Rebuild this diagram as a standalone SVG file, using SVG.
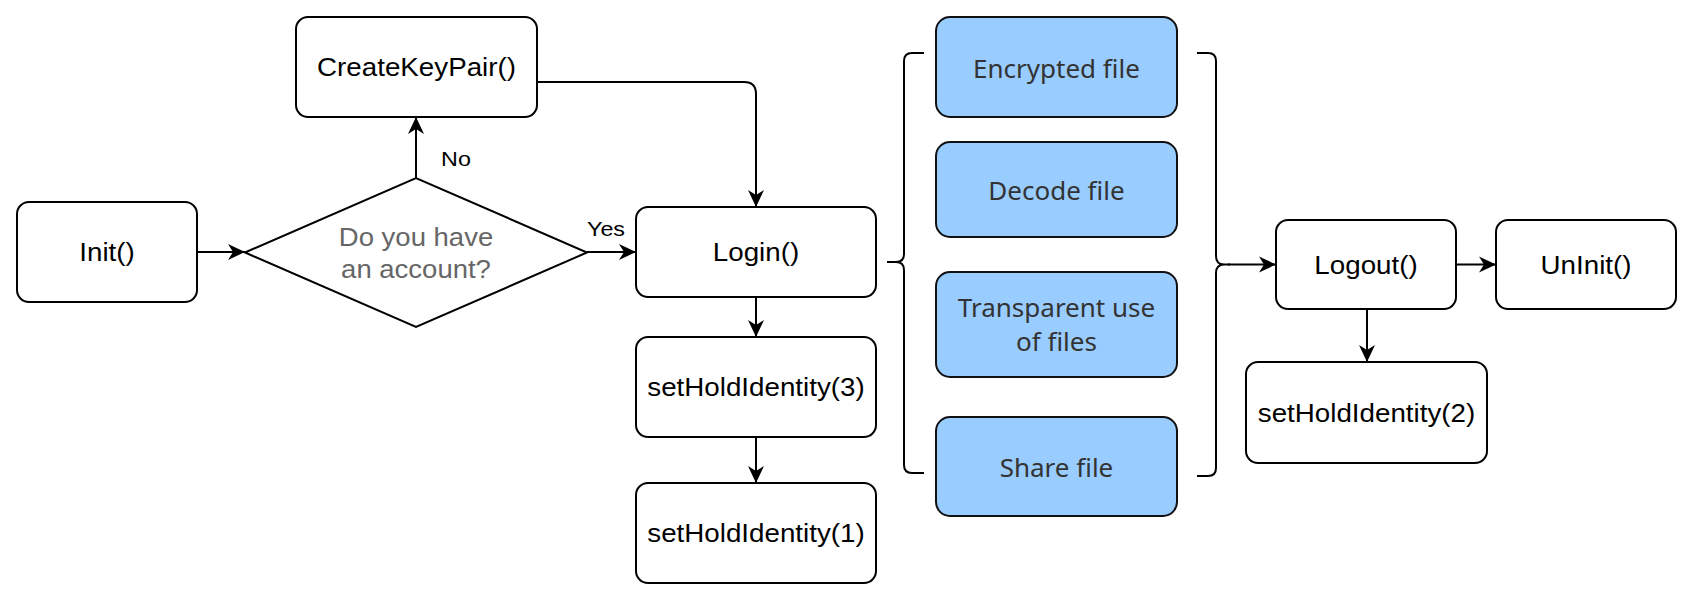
<svg xmlns="http://www.w3.org/2000/svg" width="1694" height="599" viewBox="0 0 1694 599">
<defs>
<marker id="arr" markerUnits="userSpaceOnUse" orient="auto" markerWidth="20" markerHeight="20" refX="0" refY="0" viewBox="-18 -10 20 20" overflow="visible">
<path d="M0,0 L-17,-8 L-12,0 L-17,8 Z" fill="#000" stroke="none"/>
</marker>
<style>
.box{fill:#fff;stroke:#000;stroke-width:2}
.blue{fill:#99ccff;stroke:#111;stroke-width:2}
.t{font-family:"Liberation Sans",Arial,sans-serif;font-size:25px;fill:#000;text-anchor:middle}
.g{font-family:"Liberation Sans",Arial,sans-serif;font-size:25px;fill:#666;text-anchor:middle}
.lb{font-family:"Liberation Sans",Arial,sans-serif;font-size:21px;fill:#000;text-anchor:middle}
.bt{font-family:"Noto Sans",sans-serif;font-size:26px;fill:#333;text-anchor:middle}
.c{fill:none;stroke:#000;stroke-width:2}
</style>
</defs>
<rect width="1694" height="599" fill="#fff"/>
<g id="connectors">
<path class="c" d="M197,252 L245,252" marker-end="url(#arr)"/>
<path class="c" d="M416,178 L416,117" marker-end="url(#arr)"/>
<path class="c" d="M587,252 L636,252" marker-end="url(#arr)"/>
<path class="c" d="M537,82 L744,82 Q756,82 756,94 L756,207" marker-end="url(#arr)"/>
<path class="c" d="M756,297 L756,337" marker-end="url(#arr)"/>
<path class="c" d="M756,437 L756,483" marker-end="url(#arr)"/>
<path class="c" d="M1228,264.5 L1276,264.5" marker-end="url(#arr)"/>
<path class="c" d="M1456,264.5 L1496,264.5" marker-end="url(#arr)"/>
<path class="c" d="M1367,309 L1367,362" marker-end="url(#arr)"/>
<text class="lb" transform="translate(456,166) scale(1.11,1)">No</text>
<text class="lb" transform="translate(606,236) scale(1.11,1)">Yes</text>
</g>
<g id="init">
<rect class="box" x="17" y="202" width="180" height="100" rx="12"/>
<text class="t" transform="translate(107,261) scale(1.11,1)">Init()</text>
</g>
<g id="createkeypair">
<rect class="box" x="296" y="17" width="241" height="100" rx="12"/>
<text class="t" transform="translate(416.5,76) scale(1.11,1)">CreateKeyPair()</text>
</g>
<g id="decision">
<polygon class="box" points="245,252.5 416,178 587,252.5 416,327"/>
<text class="g" transform="translate(416,246) scale(1.1,1)">Do you have</text>
<text class="g" transform="translate(416,278) scale(1.1,1)">an account?</text>
</g>
<g id="login">
<rect class="box" x="636" y="207" width="240" height="90" rx="12"/>
<text class="t" transform="translate(756,261) scale(1.11,1)">Login()</text>
</g>
<g id="sethold3">
<rect class="box" x="636" y="337" width="240" height="100" rx="12"/>
<text class="t" transform="translate(756,396) scale(1.11,1)">setHoldIdentity(3)</text>
</g>
<g id="sethold1">
<rect class="box" x="636" y="483" width="240" height="100" rx="12"/>
<text class="t" transform="translate(756,542) scale(1.11,1)">setHoldIdentity(1)</text>
</g>
<g id="brace-left">
<path class="c" d="M924,53 L912,53 Q904,53 904,61 L904,254 Q904,262 896,262 L887,262 M896,262 Q904,262 904,270 L904,465 Q904,473 912,473 L924,473"/>
</g>
<g id="encrypted">
<rect class="blue" x="936" y="17" width="241" height="100" rx="14"/>
<text class="bt" x="1056.5" y="77.5">Encrypted file</text>
</g>
<g id="decode">
<rect class="blue" x="936" y="142" width="241" height="95" rx="14"/>
<text class="bt" x="1056.5" y="200">Decode file</text>
</g>
<g id="transparent">
<rect class="blue" x="936" y="272" width="241" height="105" rx="14"/>
<text class="bt" x="1056.5" y="317">Transparent use</text>
<text class="bt" x="1056.5" y="351">of files</text>
</g>
<g id="share">
<rect class="blue" x="936" y="417" width="241" height="99" rx="14"/>
<text class="bt" x="1056.5" y="477">Share file</text>
</g>
<g id="brace-right">
<path class="c" d="M1197,53 L1208,53 Q1216,53 1216,61 L1216,256 Q1216,264.5 1224,264.5 L1230,264.5 M1224,264.5 Q1216,264.5 1216,273 L1216,468 Q1216,476 1208,476 L1197,476"/>
</g>
<g id="logout">
<rect class="box" x="1276" y="220" width="180" height="89" rx="12"/>
<text class="t" transform="translate(1366,274) scale(1.11,1)">Logout()</text>
</g>
<g id="uninit">
<rect class="box" x="1496" y="220" width="180" height="89" rx="12"/>
<text class="t" transform="translate(1586,274) scale(1.11,1)">UnInit()</text>
</g>
<g id="sethold2">
<rect class="box" x="1246" y="362" width="241" height="101" rx="12"/>
<text class="t" transform="translate(1366.5,422) scale(1.11,1)">setHoldIdentity(2)</text>
</g>
</svg>
